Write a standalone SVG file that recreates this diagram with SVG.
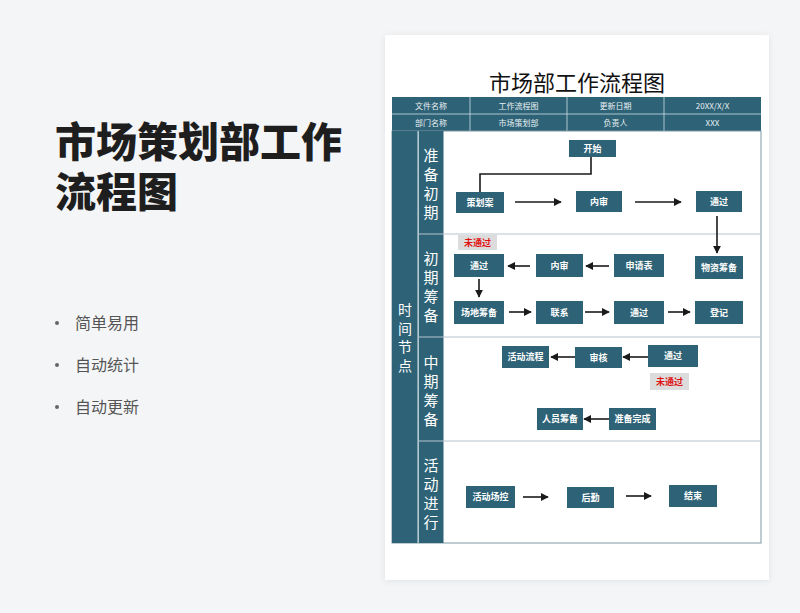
<svg xmlns="http://www.w3.org/2000/svg" width="800" height="613" viewBox="0 0 800 613">
<style>
  .cn{font-family:"Noto Sans CJK SC","Noto Sans",sans-serif}
  .node rect{fill:#2e6276}
  .node text{font-family:"Noto Sans CJK SC",sans-serif;font-size:9px;font-weight:bold;fill:#ffffff;text-anchor:middle}
  .hdr{font-family:"Noto Sans CJK SC",sans-serif;font-size:8px;fill:#e8f0f3;text-anchor:middle}
  .stage{font-family:"Noto Sans CJK SC",sans-serif;font-size:15px;fill:#ffffff;text-anchor:middle}
  .stage2{font-family:"Noto Sans CJK SC",sans-serif;font-size:14px;fill:#ffffff;text-anchor:middle}
  .conn line,.conn polyline{stroke:#1a1a1a;stroke-width:1.6;fill:none}
  .tag rect{fill:#dcdcdc}
  .tag text{font-family:"Noto Sans CJK SC",sans-serif;font-size:9px;font-weight:bold;fill:#e01010;text-anchor:middle}
  .bullet{font-family:"Noto Sans CJK SC",sans-serif;font-size:16px;fill:#555555}
</style>
<defs>
  <marker id="ah" viewBox="0 0 10 10" refX="9" refY="5" markerWidth="5" markerHeight="5" orient="auto" markerUnits="strokeWidth">
    <path d="M0,0 L10,5 L0,10 z" fill="#1a1a1a"/>
  </marker>
  <filter id="sh" x="-5%" y="-5%" width="110%" height="110%">
    <feDropShadow dx="0" dy="1" stdDeviation="3" flood-color="#000" flood-opacity="0.08"/>
  </filter>
</defs>
<rect x="0" y="0" width="800" height="613" fill="#f4f5f7"/>

<!-- left side -->
<g id="left-title">
  <text class="cn" x="55" y="157" font-size="41" font-weight="900" fill="#1e1e1e"><tspan x="55" y="157">市场策划部工作</tspan><tspan x="55" y="207">流程图</tspan></text>
</g>
<g id="bullets">
  <circle cx="57" cy="323" r="2" fill="#666"/>
  <text class="bullet" x="75" y="329">简单易用</text>
  <circle cx="57" cy="365" r="2" fill="#666"/>
  <text class="bullet" x="75" y="371">自动统计</text>
  <circle cx="57" cy="407" r="2" fill="#666"/>
  <text class="bullet" x="75" y="413">自动更新</text>
</g>

<!-- paper -->
<rect x="385" y="35" width="384" height="545" fill="#ffffff" filter="url(#sh)"/>
<text class="cn" x="577" y="91" font-size="22" fill="#111" text-anchor="middle">市场部工作流程图</text>

<!-- header table -->
<g id="header">
  <rect x="392" y="97" width="369" height="34" fill="#2e6276"/>
  <g stroke="#cfe0e6" stroke-width="0.8">
    <line x1="392" y1="114" x2="761" y2="114"/>
    <line x1="470" y1="97" x2="470" y2="131"/>
    <line x1="567" y1="97" x2="567" y2="131"/>
    <line x1="664" y1="97" x2="664" y2="131"/>
  </g>
  <text class="hdr" x="431" y="108.5">文件名称</text>
  <text class="hdr" x="518.5" y="108.5">工作流程图</text>
  <text class="hdr" x="615.5" y="108.5">更新日期</text>
  <text class="hdr" x="712.5" y="108.5">20XX/X/X</text>
  <text class="hdr" x="431" y="125.5">部门名称</text>
  <text class="hdr" x="518.5" y="125.5">市场策划部</text>
  <text class="hdr" x="615.5" y="125.5">负责人</text>
  <text class="hdr" x="712.5" y="125.5">XXX</text>
</g>

<!-- body frame -->
<g id="frame">
  <rect x="392" y="131" width="369" height="412" fill="#ffffff" stroke="#7f98a3" stroke-width="1"/>
  <rect x="392" y="131" width="26" height="412" fill="#2e6276"/>
  <rect x="418.5" y="131" width="25" height="412" fill="#2e6276"/>
  <line x1="418" y1="131" x2="418" y2="543" stroke="#cfe0e6" stroke-width="1"/>
  <g stroke="#b5c6cd" stroke-width="1.2">
    <line x1="418" y1="234" x2="761" y2="234"/>
    <line x1="418" y1="337" x2="761" y2="337"/>
    <line x1="418" y1="441" x2="761" y2="441"/>
  </g>
  <g class="stage2">
    <text x="405" y="315">时</text>
    <text x="405" y="333.5">间</text>
    <text x="405" y="352">节</text>
    <text x="405" y="370.5">点</text>
  </g>
  <g class="stage">
    <text x="431" y="161">准</text><text x="431" y="180">备</text><text x="431" y="199">初</text><text x="431" y="218">期</text>
    <text x="431" y="264">初</text><text x="431" y="283">期</text><text x="431" y="302">筹</text><text x="431" y="321">备</text>
    <text x="431" y="368">中</text><text x="431" y="387">期</text><text x="431" y="406">筹</text><text x="431" y="425">备</text>
    <text x="431" y="471">活</text><text x="431" y="490">动</text><text x="431" y="509">进</text><text x="431" y="528">行</text>
  </g>
</g>

<!-- connectors -->
<g id="connectors" class="conn">
  <polyline points="591,157 591,174 480,174 480,192"/>
  <line x1="515" y1="202" x2="561" y2="202" marker-end="url(#ah)"/>
  <line x1="635" y1="202" x2="681" y2="202" marker-end="url(#ah)"/>
  <line x1="717" y1="216" x2="717" y2="253" marker-end="url(#ah)"/>
  <line x1="609" y1="266" x2="586" y2="266" marker-end="url(#ah)"/>
  <line x1="530" y1="266" x2="508" y2="266" marker-end="url(#ah)"/>
  <line x1="479" y1="279" x2="479" y2="297" marker-end="url(#ah)"/>
  <line x1="509" y1="312" x2="531" y2="312" marker-end="url(#ah)"/>
  <line x1="585" y1="312" x2="609" y2="312" marker-end="url(#ah)"/>
  <line x1="668" y1="312" x2="690" y2="312" marker-end="url(#ah)"/>
  <line x1="575" y1="357" x2="551" y2="357" marker-end="url(#ah)"/>
  <line x1="648" y1="357" x2="623" y2="357" marker-end="url(#ah)"/>
  <line x1="609" y1="419" x2="584" y2="419" marker-end="url(#ah)"/>
  <line x1="523" y1="497" x2="548" y2="497" marker-end="url(#ah)"/>
  <line x1="626" y1="496" x2="651" y2="496" marker-end="url(#ah)"/>
</g>

<!-- nodes -->
<g id="n-start" class="node"><rect x="569" y="140" width="47" height="17"/><text x="592.5" y="151.5">开始</text></g>
<g id="n-plan" class="node"><rect x="456" y="192" width="48" height="21"/><text x="480" y="205.5">策划案</text></g>
<g id="n-review1" class="node"><rect x="576" y="191" width="46" height="21"/><text x="599" y="204.5">内审</text></g>
<g id="n-pass1" class="node"><rect x="696" y="191" width="46" height="21"/><text x="719" y="204.5">通过</text></g>

<g id="tag-fail1" class="tag"><rect x="458" y="235" width="39" height="15"/><text x="477.5" y="246">未通过</text></g>
<g id="n-pass2" class="node"><rect x="454" y="254" width="50" height="23"/><text x="479" y="268.5">通过</text></g>
<g id="n-review2" class="node"><rect x="536" y="254" width="47" height="23"/><text x="559.5" y="268.5">内审</text></g>
<g id="n-apply" class="node"><rect x="614" y="254" width="50" height="23"/><text x="639" y="268.5">申请表</text></g>
<g id="n-material" class="node"><rect x="695" y="256" width="48" height="23"/><text x="719" y="270.5">物资筹备</text></g>
<g id="n-venue" class="node"><rect x="454" y="301" width="50" height="23"/><text x="479" y="315.5">场地筹备</text></g>
<g id="n-contact" class="node"><rect x="536" y="301" width="47" height="23"/><text x="559.5" y="315.5">联系</text></g>
<g id="n-pass3" class="node"><rect x="614" y="301" width="50" height="23"/><text x="639" y="315.5">通过</text></g>
<g id="n-register" class="node"><rect x="695" y="301" width="48" height="23"/><text x="719" y="315.5">登记</text></g>

<g id="n-flow" class="node"><rect x="502" y="346" width="47" height="22"/><text x="525.5" y="360">活动流程</text></g>
<g id="n-audit" class="node"><rect x="575" y="347" width="47" height="21"/><text x="598.5" y="360.5">审核</text></g>
<g id="n-pass4" class="node"><rect x="648" y="345" width="50" height="22"/><text x="673" y="359">通过</text></g>
<g id="tag-fail2" class="tag"><rect x="650" y="373" width="39" height="17"/><text x="669.5" y="385">未通过</text></g>
<g id="n-staff" class="node"><rect x="537" y="408" width="46" height="22"/><text x="560" y="422">人员筹备</text></g>
<g id="n-ready" class="node"><rect x="609" y="408" width="47" height="22"/><text x="632.5" y="422">准备完成</text></g>

<g id="n-control" class="node"><rect x="466" y="486" width="49" height="22"/><text x="490.5" y="500">活动场控</text></g>
<g id="n-logistics" class="node"><rect x="567" y="487" width="47" height="21"/><text x="590.5" y="500.5">后勤</text></g>
<g id="n-end" class="node"><rect x="669" y="485" width="48" height="22"/><text x="693" y="499">结束</text></g>
</svg>
